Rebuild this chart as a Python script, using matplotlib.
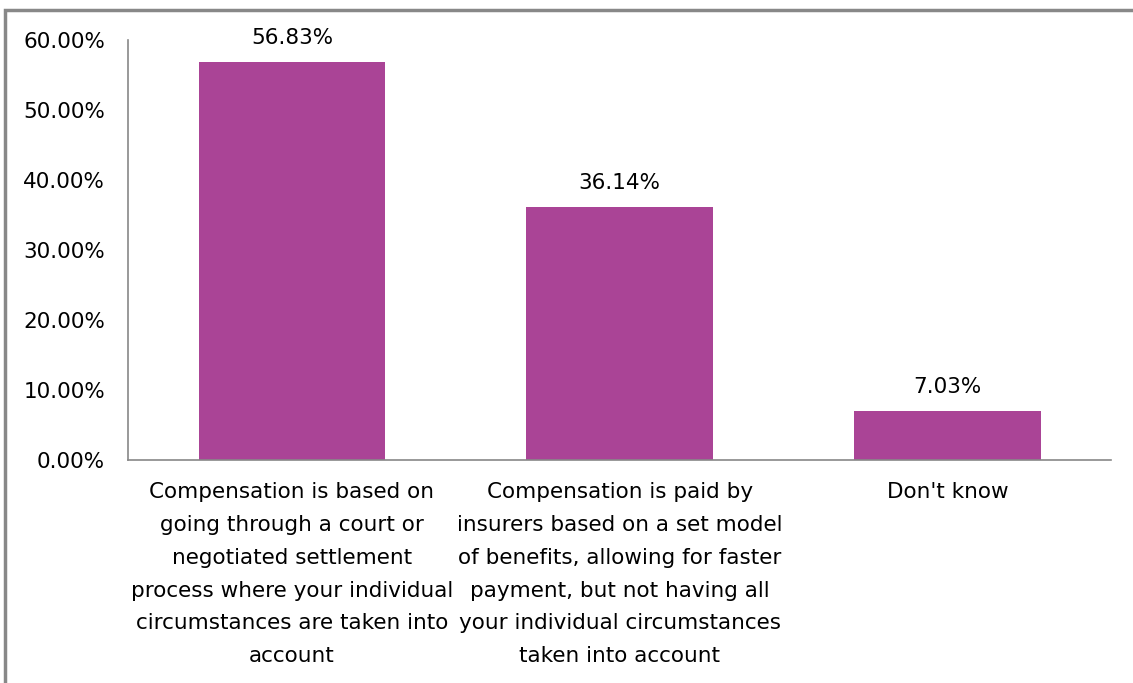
import matplotlib.pyplot as plt
from matplotlib.patches import Rectangle

categories = [
    "Compensation is based on\ngoing through a court or\nnegotiated settlement\nprocess where your individual\ncircumstances are taken into\naccount",
    "Compensation is paid by\ninsurers based on a set model\nof benefits, allowing for faster\npayment, but not having all\nyour individual circumstances\ntaken into account",
    "Don't know",
]
shares = [56.83, 36.14, 7.03]
yticks = [0, 10, 20, 30, 40, 50, 60]

plt.rcParams['font.family'] = ['DejaVu Sans']

fig = plt.figure(figsize=(11.33, 6.83), dpi=100)
ax = fig.add_axes([0.113, 0.3265, 0.868, 0.615])

x = range(len(categories))
bars = ax.bar(x, shares, width=0.57, color='#AA4496')
for b, v in zip(bars, shares):
    ax.text(b.get_x() + b.get_width() / 2, v + 2.0, f"{v:.2f}%",
            ha='center', va='bottom', fontsize=15.5)

ax.set_xlim(-0.5, 2.5)
ax.set_ylim(0, 60)
ax.set_yticks(yticks)
ax.set_yticklabels([f"{t:.2f}%" for t in yticks], fontsize=15.5)
ax.set_xticks(list(x))
ax.set_xticklabels(categories, fontsize=15.5, linespacing=1.8, va='top')
ax.tick_params(length=0)
ax.tick_params(axis='y', pad=16.5)
ax.tick_params(axis='x', pad=16)

for s in ['top', 'right']:
    ax.spines[s].set_visible(False)
for s in ['left', 'bottom']:
    ax.spines[s].set_color('#888888')
    ax.spines[s].set_linewidth(1.2)

# outer frame around the chart area
fig.patches.append(Rectangle((5 / 1133, -0.1), 1.2, 1 - 10 / 683 + 0.1,
                             transform=fig.transFigure, fill=False,
                             edgecolor='#888888', linewidth=2.5))

fig.savefig('out.png', dpi=100)
